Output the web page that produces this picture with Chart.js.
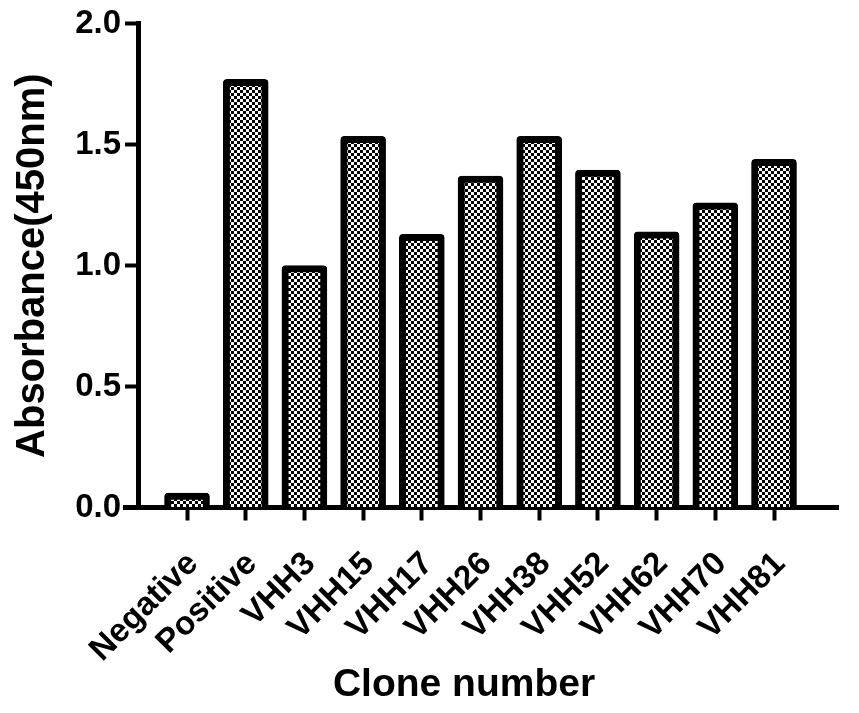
<!DOCTYPE html>
<html>
<head>
<meta charset="utf-8">
<script src="https://cdn.jsdelivr.net/npm/chart.js@4"></script>
<style>
  body { margin: 0; background: #fff; }
</style>
</head>
<body>
<canvas id="bars" width="859" height="713"></canvas>
<script>
const clones = ['Negative', 'Positive', 'VHH3', 'VHH15', 'VHH17', 'VHH26', 'VHH38', 'VHH52', 'VHH62', 'VHH70', 'VHH81'];
const absorbance = [0.06, 1.77, 1.0, 1.535, 1.13, 1.37, 1.535, 1.395, 1.14, 1.26, 1.44];
const yTicks = [0, 0.5, 1.0, 1.5, 2.0];

const font = 'Arial, "Liberation Sans", sans-serif';

// checkerboard fill, like the GraphPad pattern
const tile = document.createElement('canvas');
tile.width = 6; tile.height = 6;
const tc = tile.getContext('2d');
tc.fillStyle = '#fff'; tc.fillRect(0, 0, 6, 6);
tc.fillStyle = '#000'; tc.fillRect(0, 0, 3, 3); tc.fillRect(3, 3, 3, 3);
const canvas = document.getElementById('bars');
const checker = canvas.getContext('2d').createPattern(tile, 'repeat');

// x axis sticks out a little to the left of the y axis,
// and the x title sits a bit left of the plot centre
const extras = {
  id: 'extras',
  afterDraw(chart) {
    const { ctx, chartArea } = chart;
    ctx.save();
    ctx.strokeStyle = '#000';
    ctx.lineWidth = 5;
    ctx.beginPath();
    ctx.moveTo(chartArea.left - 15, chartArea.bottom);
    ctx.lineTo(chartArea.left, chartArea.bottom);
    ctx.stroke();
    ctx.fillStyle = '#000';
    ctx.font = 'bold 39px ' + font;
    ctx.textAlign = 'center';
    ctx.textBaseline = 'middle';
    ctx.fillText('Clone number', (chartArea.left + chartArea.right) / 2 - 24, chart.height - 28);
    ctx.restore();
  }
};

const chart = new Chart(canvas, {
  type: 'bar',
  data: {
    datasets: [{
      label: 'Absorbance',
      data: clones.map((c, i) => ({ x: i + 1, y: absorbance[i] })),
      backgroundColor: checker,
      borderColor: '#000',
      borderWidth: 7,
      borderRadius: 4,
      barThickness: 45
    }]
  },
  options: {
    responsive: false,
    animation: false,
    layout: { padding: { top: 22, right: 21, left: 0, bottom: 0 } },
    plugins: { legend: { display: false }, tooltip: { enabled: false } },
    scales: {
      x: {
        type: 'linear',
        offset: false,
        min: 0.165,
        max: 12.09,
        z: 1,
        afterBuildTicks: s => { s.ticks = clones.map((c, i) => ({ value: i + 1 })); },
        afterFit: s => { s.height = 205.5; },
        grid: { offset: false, drawOnChartArea: false, tickLength: 13, tickWidth: 4, tickColor: '#000' },
        border: { color: '#000', width: 5 },
        ticks: {
          callback: v => clones[v - 1],
          autoSkip: false,
          maxRotation: 45,
          minRotation: 45,
          padding: 24,
          labelOffset: 6,
          color: '#000',
          font: { family: font, size: 33, weight: 'bold' }
        }
      },
      y: {
        min: 0,
        max: 2,
        afterBuildTicks: s => { s.ticks = yTicks.map(v => ({ value: v })); },
        afterFit: s => { s.width = 138; },
        grid: { drawOnChartArea: false, tickLength: 13, tickWidth: 4, tickColor: '#000' },
        border: { color: '#000', width: 5 },
        ticks: {
          callback: v => v.toFixed(1),
          padding: 4,
          color: '#000',
          font: { family: font, size: 33, weight: 'bold' }
        },
        title: {
          display: true,
          text: 'Absorbance(450nm)',
          color: '#000',
          padding: 9,
          font: { family: font, size: 40, weight: 'bold' }
        }
      }
    }
  },
  plugins: [extras]
});
</script>
</body>
</html>
